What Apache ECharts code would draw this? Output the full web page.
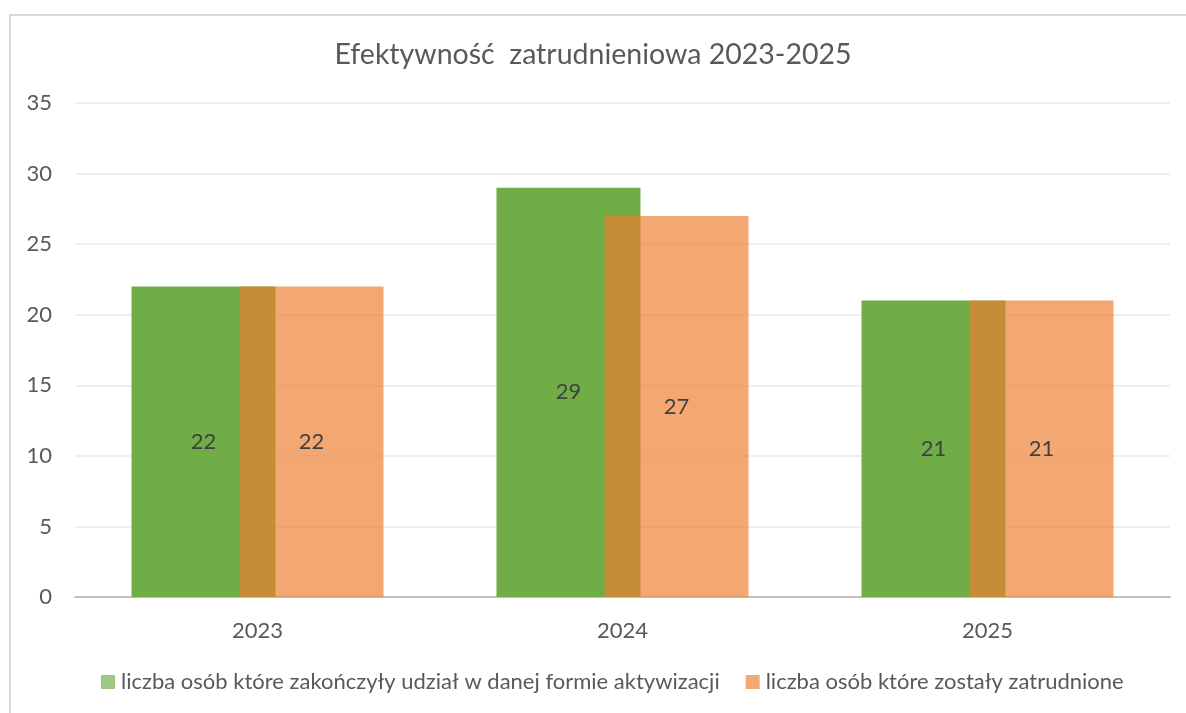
<!DOCTYPE html>
<html><head><meta charset="utf-8">
<script src="https://cdn.jsdelivr.net/npm/echarts@6/dist/echarts.min.js"></script>
<style>html,body{margin:0;padding:0;background:#fff}#c{width:1186px;height:713px}</style>
</head><body><div id="c"></div>
<script>
const categories = ['2023', '2024', '2025'];
const seriesNames = ['liczba osób które zakończyły udział w danej formie aktywizacji', 'liczba osób które zostały zatrudnione'];
const completed = [22, 29, 21];
const employed = [22, 27, 21];
const yTicks = [0, 5, 10, 15, 20, 25, 30, 35];

const FONT = 'Lato, "Open Sans", sans-serif';
const GREEN = '#70ad47';
const GREEN_LEGEND = 'rgba(112,173,71,0.68)';
const ORANGE = 'rgba(237,125,49,0.68)';
const chart = echarts.init(document.getElementById('c'));
chart.setOption({
  animation: false,
  backgroundColor: '#fff',
  title: {
    text: 'Efektywność  zatrudnieniowa 2023-2025',
    left: 'center', top: 35,
    textStyle: { fontFamily: FONT, fontSize: 28.5, fontWeight: 'normal', color: '#595959' }
  },
  graphic: [{
    type: 'polyline', silent: true,
    shape: { points: [[10, 713], [10, 15], [1186, 15]] },
    style: { stroke: '#d9d9d9', lineWidth: 2, fill: null }
  }],
  legend: {
    bottom: 15, left: 96, itemWidth: 14, itemHeight: 14, itemGap: 26,
    icon: 'rect',
    textStyle: { fontFamily: FONT, fontSize: 22, color: '#595959', padding: [0, 0, 0, 1] },
    data: [
      { name: seriesNames[0], itemStyle: { color: GREEN_LEGEND } },
      { name: seriesNames[1], itemStyle: { color: ORANGE } }
    ]
  },
  grid: { left: 75, right: 16, top: 103, bottom: 116 },
  xAxis: {
    type: 'category', data: categories,
    axisLine: { lineStyle: { color: '#bfbfbf', width: 2 } },
    axisTick: { show: false },
    axisLabel: { fontFamily: FONT, fontSize: 22, color: '#595959', margin: 23 }
  },
  yAxis: {
    type: 'value', min: yTicks[0], max: yTicks[yTicks.length - 1], interval: 5,
    axisLine: { show: false }, axisTick: { show: false },
    splitLine: { lineStyle: { color: '#efefef', width: 2 } },
    axisLabel: { fontFamily: FONT, fontSize: 22, color: '#595959', margin: 23 }
  },
  series: [
    {
      name: seriesNames[0], type: 'bar', data: completed,
      barWidth: 144, barGap: '-25%',
      itemStyle: { color: GREEN },
      label: { show: true, position: 'inside', fontFamily: FONT, fontSize: 22, color: '#404040' }
    },
    {
      name: seriesNames[1], type: 'bar', data: employed,
      barWidth: 144,
      itemStyle: { color: ORANGE },
      label: { show: true, position: 'inside', fontFamily: FONT, fontSize: 22, color: '#404040' }
    }
  ]
});
</script></body></html>
